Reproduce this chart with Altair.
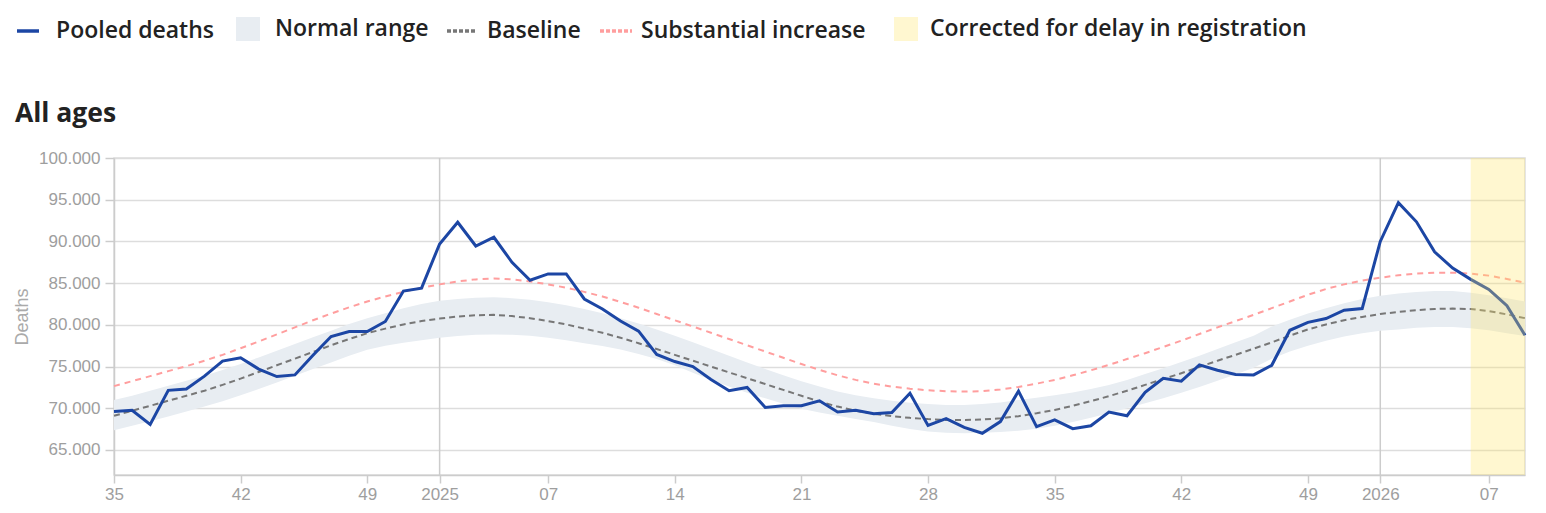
import altair as alt
import pandas as pd

# week index 0 = ISO week 35 of 2024 ... 78 = week 09 of 2026
week_index = list(range(79))

pooled = [69600, 69750, 68050, 72150, 72300, 73850, 75650, 76050, 74700, 73800,
          74000, 76350, 78600, 79200, 79200, 80400, 84050, 84400, 89700, 92300,
          89450, 90500, 87500, 85350, 86100, 86100, 83100, 81900, 80450, 79250,
          76450, 75600, 75000, 73450, 72100, 72500, 70100, 70300, 70300, 70900,
          69550, 69750, 69350, 69500, 71800, 67950, 68750, 67700, 67000, 68400,
          72050, 67800, 68600, 67550, 67900, 69550, 69100, 71900, 73600, 73250,
          75200, 74550, 74050, 74000, 75150, 79350, 80300, 80750, 81750, 81950,
          90000, 94650, 92350, 88750, 86800, 85450, 84250, 82300, 78750]

baseline = [69100, 69700, 70300, 70900, 71500, 72100, 72800, 73550, 74350, 75150,
            75950, 76750, 77550, 78300, 79000, 79550, 80050, 80450, 80750, 81000,
            81150, 81200, 81050, 80800, 80450, 80050, 79550, 79050, 78450, 77800,
            77100, 76400, 75700, 75000, 74300, 73600, 72900, 72200, 71500, 70800,
            70200, 69700, 69350, 69050, 68850, 68700, 68600, 68600, 68650, 68800,
            69050, 69400, 69800, 70300, 70850, 71450, 72100, 72800, 73500, 74200,
            74950, 75700, 76400, 77150, 77900, 78700, 79450, 80050, 80550, 80950,
            81300, 81550, 81750, 81900, 81950, 81900, 81650, 81250, 80800]

normal_upper = [71000, 71500, 72100, 72700, 73300, 73900, 74600, 75300, 76100, 76900,
                77700, 78500, 79300, 80100, 80800, 81400, 82000, 82500, 82900, 83100,
                83250, 83300, 83200, 83000, 82700, 82350, 81900, 81400, 80800, 80150,
                79450, 78700, 77900, 77100, 76300, 75500, 74700, 73950, 73250, 72600,
                72000, 71550, 71200, 70900, 70650, 70500, 70400, 70400, 70500, 70700,
                71000, 71250, 71550, 71900, 72300, 72800, 73400, 74100, 74800, 75550,
                76300, 77100, 77900, 78700, 79800, 80600, 81350, 82000, 82600, 83100,
                83500, 83750, 83950, 84050, 84050, 83850, 83550, 83200, 82800]

normal_lower = [67350, 67900, 68450, 69000, 69600, 70200, 70850, 71550, 72300, 73100,
                73900, 74700, 75500, 76300, 77000, 77500, 77850, 78150, 78450, 78650,
                78800, 78850, 78800, 78700, 78450, 78150, 77800, 77450, 77050, 76500,
                75900, 75150, 74250, 73400, 72600, 71850, 71200, 70550, 69950, 69500,
                69100, 68700, 68350, 67900, 67500, 67200, 67050, 67000, 67050, 67150,
                67300, 67550, 67900, 68350, 68850, 69400, 70000, 70600, 71200, 71850,
                72550, 73300, 74050, 74850, 75950, 76800, 77500, 78100, 78600, 79000,
                79300, 79450, 79650, 79750, 79750, 79600, 79350, 79000, 78650]

substantial = [72650, 73250, 73850, 74450, 75050, 75700, 76400, 77200, 78000, 78850,
               79700, 80550, 81350, 82100, 82800, 83400, 83950, 84450, 84850, 85200,
               85450, 85550, 85450, 85200, 84850, 84450, 83950, 83400, 82750, 82050,
               81300, 80550, 79800, 79050, 78300, 77550, 76800, 76050, 75300, 74600,
               73950, 73400, 72950, 72600, 72350, 72150, 72050, 72000, 72050, 72250,
               72550, 72950, 73400, 73950, 74550, 75200, 75900, 76600, 77350, 78100,
               78900, 79700, 80450, 81200, 82000, 82800, 83600, 84300, 84850, 85300,
               85650, 85950, 86150, 86250, 86250, 86150, 85900, 85500, 85050]

tick_index = [0, 7, 14, 18, 24, 31, 38, 45, 52, 59, 66, 70, 76]
tick_labels = ["35", "42", "49", "2025", "07", "14", "21", "28", "35", "42", "49", "2026", "07"]
year_start_index = [18, 70]
corrected_from = [75]
corrected_to = [78]
y_ticks = [65000, 70000, 75000, 80000, 85000, 90000, 95000, 100000]

df = pd.DataFrame({
    "i": week_index, "pooled": pooled, "baseline": baseline,
    "lower": normal_lower, "upper": normal_upper, "subst": substantial,
})
years = pd.DataFrame({"i": year_start_index})
corr = pd.DataFrame({"x": corrected_from, "x2": corrected_to})

LEG_FONT = "Open Sans"
LEG_SIZE = 23

label_expr = "[" + ",".join("'%s'" % t for t in tick_labels) + "][indexof([" + \
    ",".join(str(t) for t in tick_index) + "], datum.value)]"

xscale = alt.Scale(domain=[0, 78], nice=False, zero=False)
xaxis = alt.Axis(values=tick_index, labelExpr=label_expr, grid=False, title=None,
                 tickSize=8, tickColor="#cccccc", domainColor="#cccccc",
                 labelColor="#9e9e9e", labelFontSize=17, labelFont="Liberation Sans",
                 labelPadding=3, tickWidth=1.5, domainWidth=1.5, labelFlush=False)
yscale = alt.Scale(domain=[62000, 100000], nice=False, zero=False)
yaxis = alt.Axis(values=y_ticks, labelExpr="replace(format(datum.value, ','), ',', '.')",
                 title="Deaths", titleColor="#aaaaaa", titleFontSize=18,
                 titleFont="Liberation Sans", titleFontWeight="normal", titlePadding=7,
                 labelColor="#9e9e9e", labelFontSize=17, labelFont="Liberation Sans",
                 tickSize=9, tickColor="#cccccc", domainColor="#cccccc",
                 gridColor="#dddddd", gridWidth=1.5, labelPadding=5, tickWidth=1.5,
                 domainWidth=1.5, labelFlush=False)

def leg(x, y, **kw):
    base = dict(orient="none", legendX=x, legendY=y, title=None,
                labelFont=LEG_FONT, labelFontSize=LEG_SIZE, labelFontWeight=600,
                labelColor="#222222", padding=0, labelLimit=600)
    base.update(kw)
    return alt.Legend(**base)

base = alt.Chart(df)

rules = alt.Chart(years).mark_rule(color="#cccccc", strokeWidth=1.5).encode(
    x=alt.X("i:Q", scale=xscale, axis=xaxis)
)

band = base.mark_area(opacity=1).encode(
    x=alt.X("i:Q", scale=xscale, axis=xaxis),
    y=alt.Y("lower:Q", scale=yscale, axis=yaxis),
    y2="upper:Q",
    fill=alt.Fill("nr:N", scale=alt.Scale(domain=["Normal range"], range=["#e8edf2"]),
                  legend=leg(122, -141, symbolType="square", symbolSize=576,
                             symbolStrokeWidth=0, labelOffset=15)),
).transform_calculate(nr="'Normal range'")

base_line = base.mark_line(strokeDash=[6, 4], strokeWidth=2).encode(
    x=alt.X("i:Q", scale=xscale, axis=xaxis),
    y=alt.Y("baseline:Q", scale=yscale, axis=yaxis),
    stroke=alt.Stroke("bl:N", scale=alt.Scale(domain=["Baseline"], range=["#777777"]),
                      legend=leg(331, -144, symbolType="stroke", symbolSize=900,
                                 symbolStrokeWidth=3.5, symbolDash=[4, 2],
                                 labelOffset=8)),
).transform_calculate(bl="'Baseline'")

subst_line = base.mark_line(strokeDash=[6, 5], strokeWidth=2).encode(
    x=alt.X("i:Q", scale=xscale, axis=xaxis),
    y=alt.Y("subst:Q", scale=yscale, axis=yaxis),
    stroke=alt.Stroke("si:N", scale=alt.Scale(domain=["Substantial increase"], range=["#ff9e9e"]),
                      legend=leg(484, -145, symbolType="stroke", symbolSize=1024,
                                 symbolStrokeWidth=3.5, symbolDash=[4, 2],
                                 labelOffset=7)),
).transform_calculate(si="'Substantial increase'")

pooled_line = base.mark_line(strokeWidth=3).encode(
    x=alt.X("i:Q", scale=xscale, axis=xaxis),
    y=alt.Y("pooled:Q", scale=yscale, axis=yaxis),
    stroke=alt.Stroke("pd:N", scale=alt.Scale(domain=["Pooled deaths"], range=["#1c46a4"]),
                      legend=leg(-99, -140, symbolType="stroke", symbolSize=484,
                                 symbolStrokeWidth=3.5, labelOffset=15)),
).transform_calculate(pd="'Pooled deaths'")

corr_rect = alt.Chart(corr).mark_rect(opacity=0.3).encode(
    x=alt.X("x:Q", scale=xscale, axis=xaxis),
    x2="x2:Q",
    y=alt.value(0),
    y2=alt.value(317),
    fill=alt.Fill("cr:N", scale=alt.Scale(domain=["Corrected for delay in registration"],
                                          range=["#ffe462"]),
                  legend=leg(780, -141, symbolType="square", symbolSize=576,
                             symbolStrokeWidth=0, symbolOpacity=0.3, labelOffset=12)),
).transform_calculate(cr="'Corrected for delay in registration'")

chart = alt.layer(rules, band, base_line, subst_line, pooled_line, corr_rect).resolve_scale(
    fill="independent", stroke="independent"
).properties(
    width=1411, height=317,
    title=alt.TitleParams("All ages", anchor="start", frame="group", dx=-99,
                          offset=-135, baseline="alphabetic", font=LEG_FONT,
                          fontSize=26.5, fontWeight=700, color="#222222"),
    autosize=alt.AutoSizeParams(type="none"),
    padding={"left": 106, "top": 150, "right": 12, "bottom": 30},
).configure_view(stroke="#dddddd", strokeWidth=1.5)

chart.save("out.html", embed_options={"renderer": "svg", "actions": False})
